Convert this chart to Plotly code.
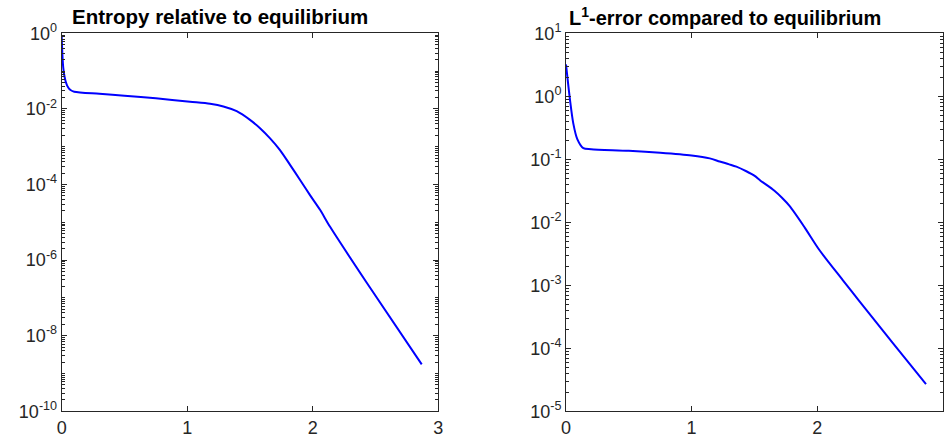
import math
import plotly.graph_objects as go

# Left panel: entropy relative to equilibrium
t_entropy = [0, 0.013, 0.032, 0.053, 0.07, 0.1, 0.3, 0.5, 0.75, 1.022, 1.182, 1.288, 1.394,
             1.5, 1.58, 1.66, 1.739, 1.819, 1.899, 1.978, 2.058, 2.138, 2.43, 2.868]
entropy = [0.813, 0.1175, 0.0525, 0.0363, 0.0316, 0.0285, 0.0251, 0.0224, 0.0191, 0.0155,
           0.01365, 0.0116, 0.0087, 0.00513, 0.00309, 0.00166, 8.13e-4, 3.31e-4, 1.32e-4,
           5.25e-5, 2.14e-5, 7.59e-6, 2.51e-7, 1.74e-9]

# Right panel: L1 error compared to equilibrium
t_l1 = [0, 0.032, 0.058, 0.09, 0.138, 0.2, 0.5, 0.75, 1.0, 1.145, 1.224, 1.3, 1.357, 1.436,
        1.5, 1.549, 1.6, 1.66, 1.72, 1.78, 1.9, 2.018, 2.204, 2.336, 2.6, 2.867]
l1_error = [3.2, 0.871, 0.372, 0.209, 0.150, 0.1445, 0.1365, 0.127, 0.115, 0.1035, 0.0923,
            0.0832, 0.0764, 0.0646, 0.0550, 0.0457, 0.0389, 0.0316, 0.0245, 0.0182,
            0.00832, 0.00363, 0.00121, 5.62e-4, 1.23e-4, 2.71e-5]

x_ticks = [0, 1, 2, 3]
left_y_exp = [-10, -8, -6, -4, -2, 0]
right_y_exp = [-5, -4, -3, -2, -1, 0, 1]
titles = ["Entropy relative to equilibrium",
          "L<sup>1</sup>-error compared to equilibrium"]

AX = '#262626'
FONT = "Liberation Sans, Arial, sans-serif"

fig = go.Figure()
fig.add_trace(go.Scatter(x=t_entropy, y=entropy, mode='lines', xaxis='x', yaxis='y',
                         line=dict(color='#0000ff', width=2, shape='spline', smoothing=0.8),
                         showlegend=False))
fig.add_trace(go.Scatter(x=t_l1, y=l1_error, mode='lines', xaxis='x2', yaxis='y2',
                         line=dict(color='#0000ff', width=2, shape='spline', smoothing=0.8),
                         showlegend=False))
# invisible traces so the minor-tick overlay axes are drawn
fig.add_trace(go.Scatter(x=[0.5], y=[-3], xaxis='x', yaxis='y3', mode='markers',
                         marker=dict(opacity=0), showlegend=False, hoverinfo='skip'))
fig.add_trace(go.Scatter(x=[0.5], y=[-3], xaxis='x2', yaxis='y4', mode='markers',
                         marker=dict(opacity=0), showlegend=False, hoverinfo='skip'))

H, W = 439, 944
ydom = [1 - 411.3 / H, 1 - 33.3 / H]

def xax(dom, anchor):
    return dict(domain=dom, anchor=anchor, range=[0, 3], tickvals=x_ticks,
                ticktext=[str(v) for v in x_ticks], ticks='inside', ticklen=5,
                tickcolor=AX, showline=True, linecolor=AX, linewidth=1, mirror='ticks',
                showgrid=False, zeroline=False, automargin=False,
                tickfont=dict(family=FONT, size=18, color=AX))

def yax(exps, anchor):
    return dict(domain=ydom, anchor=anchor, type='log', range=[exps[0], exps[-1]],
                tickmode='array', tickvals=[10.0 ** e for e in exps],
                ticktext=["10<sup>%d</sup>" % e for e in exps],
                ticks='inside', ticklen=5, tickcolor=AX, showline=True, linecolor=AX,
                linewidth=1, mirror='ticks', showgrid=False, zeroline=False,
                automargin=False,
                tickfont=dict(family=FONT, size=18, color=AX))

def minor_yax(exps, anchor, over):
    # linear axis in decade units carrying the k*10^n sub-ticks
    vals = [e + math.log10(k) for e in range(exps[0], exps[-1]) for k in range(1, 10)
            if not (k == 1 and e in exps)]
    return dict(domain=ydom, anchor=anchor, overlaying=over, type='linear',
                range=[exps[0], exps[-1]], tickmode='array', tickvals=vals,
                showticklabels=False,
                ticks='inside', ticklen=3, tickcolor=AX, showline=True, linecolor=AX,
                linewidth=1, mirror='ticks', showgrid=False, zeroline=False,
                automargin=False)

fig.update_layout(
    width=W, height=H, margin=dict(l=0, r=0, t=0, b=0),
    paper_bgcolor='white', plot_bgcolor='white', template='none',
    xaxis=xax([61.7 / W, 438.3 / W], 'y'),
    yaxis=yax(left_y_exp, 'x'),
    xaxis2=xax([566.0 / W, 942.7 / W], 'y2'),
    yaxis2=yax(right_y_exp, 'x2'),
    yaxis3=minor_yax(left_y_exp, 'x', 'y'),
    yaxis4=minor_yax(right_y_exp, 'x2', 'y2'),
    annotations=[
        dict(text="<b>%s</b>" % titles[0], x=219.7 / W, y=1 - 17 / H, xref='paper',
             yref='paper', xanchor='center', yanchor='middle', showarrow=False,
             font=dict(family=FONT, size=20.5, color='black')),
        dict(text="<b>%s</b>" % titles[1], x=724.7 / W, y=1 - 17 / H, xref='paper',
             yref='paper', xanchor='center', yanchor='middle', showarrow=False,
             font=dict(family=FONT, size=20, color='black')),
    ],
)

fig.write_html("out.html")
